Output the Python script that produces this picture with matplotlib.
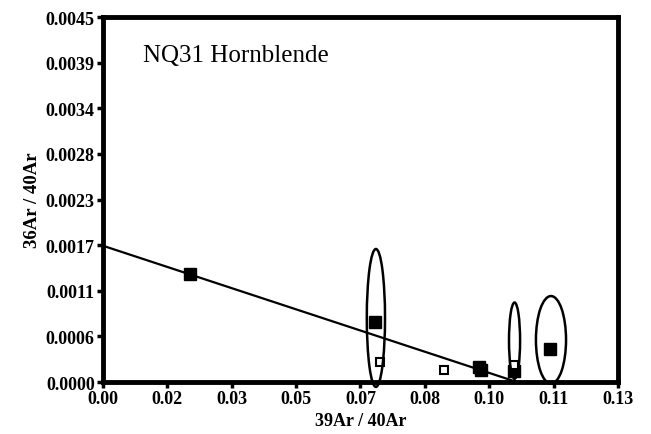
import matplotlib.pyplot as plt
from matplotlib.patches import Ellipse
import numpy as np

plt.rcParams['font.family'] = ['Liberation Serif', 'DejaVu Serif']

# step data, 39Ar/40Ar vs 36Ar/40Ar
filled_x = [0.0220, 0.0687, 0.0950, 0.0955, 0.1037, 0.1128]
filled_y = [0.00133, 0.00074, 0.00019, 0.00015, 0.00013, 0.00041]
open_x = [0.0699, 0.0861, 0.1037]
open_y = [0.00025, 0.00015, 0.00021]

# isochron fit
intercept = 0.00168
slope = -0.01608

# rejected steps (centre x, centre y, width, height)
ell_x = [0.0689, 0.1039, 0.1131]
ell_y = [0.00079, 0.00051, 0.00052]
ell_w = [0.0046, 0.0028, 0.0076]
ell_h = [0.00170, 0.00094, 0.00108]

xticks = np.linspace(0, 0.13, 9)
yticks = np.linspace(0, 0.0045, 9)
xlabels = ['0.00', '0.02', '0.03', '0.05', '0.07', '0.08', '0.10', '0.11', '0.13']
ylabels = ['0.0000', '0.0006', '0.0011', '0.0017', '0.0023', '0.0028', '0.0034', '0.0039', '0.0045']

fig = plt.figure(figsize=(6.51, 4.35), dpi=100)
ax = fig.add_axes([0.1582, 0.1195, 0.791, 0.839])

line_x = np.array([0, -intercept / slope])
ax.plot(line_x, intercept + slope * line_x, color='black', lw=1.6, zorder=2)

ax.plot(filled_x, filled_y, 's', color='black', ms=8.5, zorder=3, clip_on=False)
ax.plot(open_x, open_y, 's', mfc='white', mec='black', mew=1.5, ms=6, zorder=3, clip_on=False)

for cx, cy, w, h in zip(ell_x, ell_y, ell_w, ell_h):
    e = Ellipse((cx, cy), w, h, fill=False, ec='black', lw=1.8, clip_on=False, zorder=4)
    ax.add_patch(e)

ax.set_xlim(0, 0.13)
ax.set_ylim(0, 0.0045)
ax.set_xticks(xticks)
ax.set_xticklabels(xlabels)
ax.set_yticks(yticks)
ax.set_yticklabels(ylabels)

for s in ax.spines.values():
    s.set_linewidth(3.5)
ax.tick_params(direction='out', length=4, width=2.5, labelsize=13, pad=2)
for t in ax.get_xticklabels() + ax.get_yticklabels():
    t.set_fontweight('bold')

ax.set_xlabel('39Ar / 40Ar', fontsize=13, fontweight='bold', labelpad=3)
ax.set_ylabel('36Ar / 40Ar', fontsize=13.5, fontweight='bold', labelpad=3)

ax.text(0.0101, 0.00403, 'NQ31 Hornblende', fontsize=18, va='center')

fig.savefig('out.png', dpi=100)
